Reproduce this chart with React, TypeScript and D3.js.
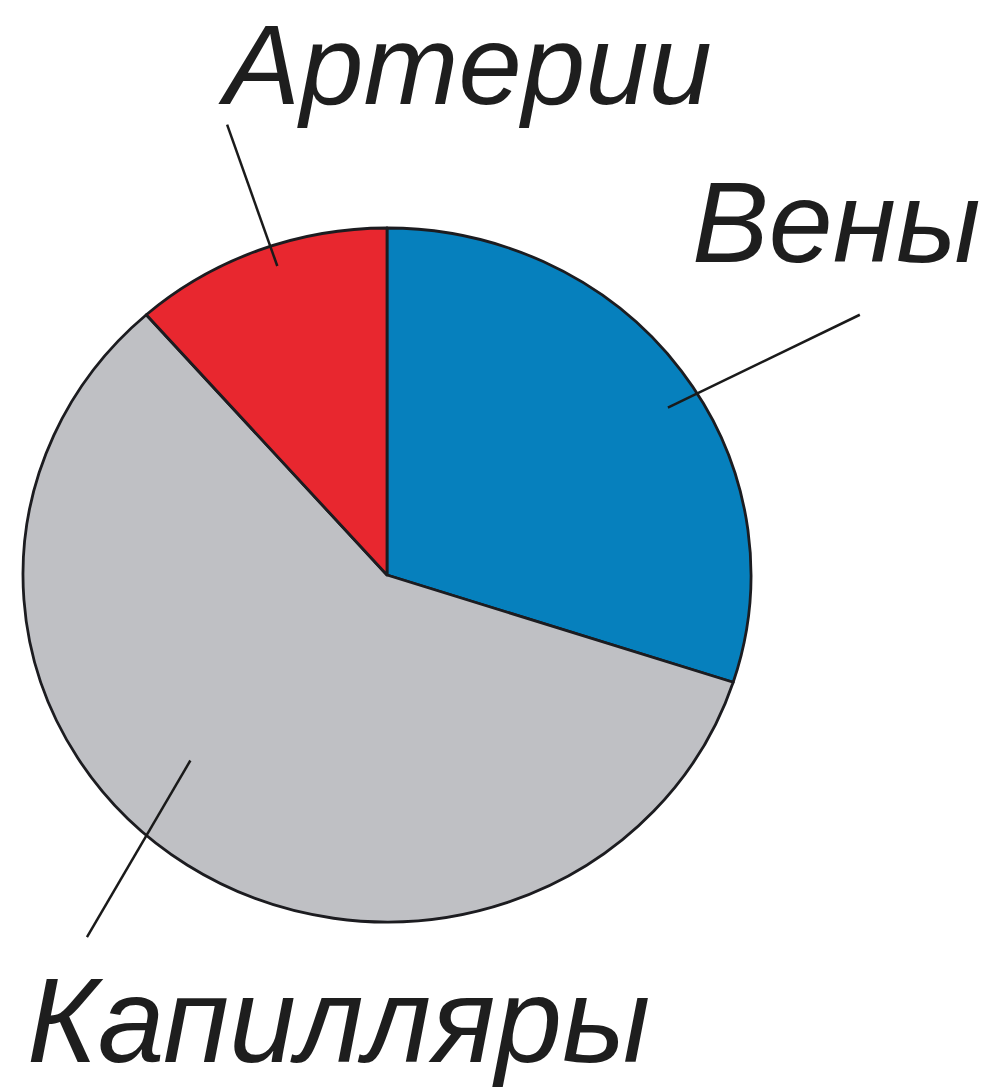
import React, { useEffect, useRef } from 'react';
import * as d3 from 'd3';

interface Slice {
  name: string;
  value: number; // share of blood volume, %
  color: string;
}

// clockwise from 12 o'clock
const categories = ['Вены', 'Капилляры', 'Артерии'];
const values = [30, 58.5, 11.5];
const colors = ['#0680bd', '#bfc0c4', '#e8272f'];

// leader lines: angle shift inside slice (deg), inner / outer radius ratio, outer angle shift
const leaderAngle = [4, 12, 2];
const leaderInner = [0.91, 0.76, 0.94];
const leaderOuterAngle = [6, 5, 2];
const leaderOuter = [1.5, 1.33, 1.37];

// label placement, as [left x, baseline y] and font size
const labelPos: [number, number][] = [
  [692, 262],
  [27, 1062],
  [224, 104],
];
const labelSize = [115, 120, 114];

const W = 992;
const H = 1087;

export default function App() {
  const svgRef = useRef<SVGSVGElement>(null);

  useEffect(() => {
    if (!svgRef.current) return;
    const svg = d3.select(svgRef.current);
    svg.selectAll('*').remove();

    const data: Slice[] = categories.map((name, i) => ({ name, value: values[i], color: colors[i] }));

    const cx = 387;
    const cy = 575;
    const rx = 364;
    const ry = 347;

    const pie = d3.pie<Slice>().sort(null).value(d => d.value);
    const arcs = pie(data);
    const arc = d3.arc<d3.PieArcDatum<Slice>>().innerRadius(0).outerRadius(rx);

    const g = svg
      .append('g')
      .attr('transform', `translate(${cx},${cy}) scale(1,${ry / rx})`);

    g.selectAll('path.slice')
      .data(arcs)
      .enter()
      .append('path')
      .attr('class', 'slice')
      .attr('d', arc)
      .attr('fill', d => d.data.color)
      .attr('stroke', '#1c1c20')
      .attr('stroke-width', 2.8)
      .attr('stroke-linejoin', 'round')
      .attr('vector-effect', 'non-scaling-stroke');

    const toXY = (angle: number, r: number): [number, number] => [
      cx + Math.sin(angle) * r * rx,
      cy - Math.cos(angle) * r * ry,
    ];

    arcs.forEach((a, i) => {
      const mid = (a.startAngle + a.endAngle) / 2;
      const rad = Math.PI / 180;
      const [x1, y1] = toXY(mid + leaderAngle[i] * rad, leaderInner[i]);
      const [x2, y2] = toXY(mid + leaderOuterAngle[i] * rad, leaderOuter[i]);
      svg.append('line')
        .attr('x1', x1)
        .attr('y1', y1)
        .attr('x2', x2)
        .attr('y2', y2)
        .attr('stroke', '#1a1a1a')
        .attr('stroke-width', 2.5);

      svg.append('text')
        .attr('x', labelPos[i][0])
        .attr('y', labelPos[i][1])
        .attr('font-family', '"Liberation Sans", Arial, sans-serif')
        .attr('font-style', 'italic')
        .attr('font-size', labelSize[i])
        .attr('fill', '#1e1e1e')
        .text(a.data.name);
    });
  }, []);

  return (
    <svg
      ref={svgRef}
      width={W}
      height={H}
      style={{ position: 'absolute', left: 0, top: 0, background: '#fff' }}
    />
  );
}
